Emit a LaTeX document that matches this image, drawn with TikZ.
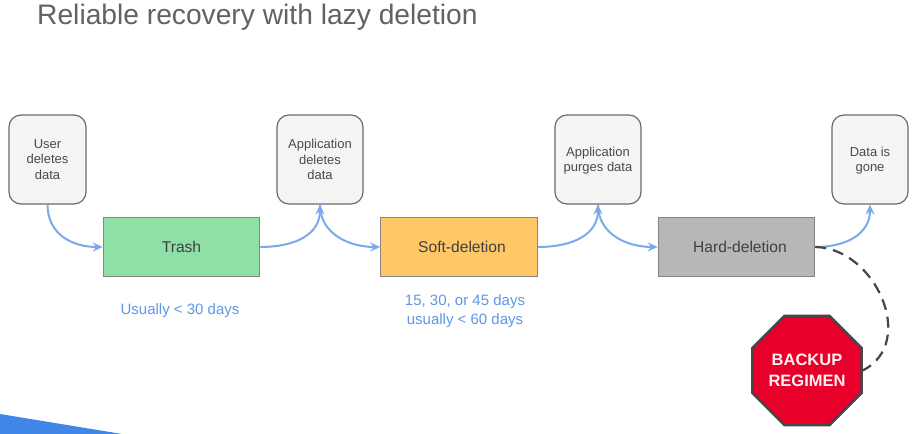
\documentclass[tikz,border=0pt]{standalone}
\usepackage{fontspec}
\setmainfont{Liberation Sans}
\usetikzlibrary{shapes.geometric,arrows.meta}
\definecolor{flowblue}{HTML}{7CA9EE}
\definecolor{noteblue}{HTML}{5F97E6}
\definecolor{wedgeblue}{HTML}{3F86E8}
\definecolor{textgrey}{HTML}{4A4A4A}
\definecolor{titlegrey}{HTML}{5F6368}
\definecolor{edgegrey}{HTML}{6B6B6B}
\definecolor{stageedge}{HTML}{858585}
\definecolor{signred}{HTML}{E8002B}
\definecolor{signedge}{HTML}{45454A}
\definecolor{trashgreen}{HTML}{8EE0A6}
\definecolor{softorange}{HTML}{FFC766}
\definecolor{hardgrey}{HTML}{B7B7B7}
\tikzset{
  eventbox/.style={draw=edgegrey, line width=1.2pt, fill=gray!8, rounded corners=12pt, minimum height=89pt, align=center, font=\fontsize{13}{15.5}\selectfont, text=textgrey, inner sep=0pt, text depth=0pt},
  stagebox/.style={draw=stageedge, line width=1pt, minimum width=156.5pt, minimum height=59.5pt, font=\fontsize{15.6}{18}\selectfont, text=black!75},
  flow/.style={-{Stealth[length=10pt,width=9pt,inset=3.5pt]}, line width=2pt, flowblue},
  spanlabel/.style={align=center, font=\fontsize{15}{19}\selectfont, text=noteblue}
}
\begin{document}
\begin{tikzpicture}[x=1pt,y=-1pt]
  \useasboundingbox (0,0) rectangle (914,434);
  \fill[white] (0,0) rectangle (914,434);

  % Corner wedge
  \fill[wedgeblue] (0,414) -- (122,434) -- (0,434) -- cycle;

  % Title
  \node[anchor=base west, text=titlegrey, font=\fontsize{28.2}{34}\selectfont, inner sep=0pt] (title) at (37,24) {Reliable recovery with lazy deletion};

  % Events
  \node[eventbox, minimum width=77pt] (user) at (47.5,159.5) {User\\deletes\\data};
  \node[eventbox, minimum width=86pt] (appdel) at (320,159.5) {Application\\deletes\\data};
  \node[eventbox, minimum width=86pt] (apppurge) at (598,159.5) {Application\\purges data};
  \node[eventbox, minimum width=76pt] (gone) at (870,159.5) {Data is\\gone};

  % Stages
  \node[stagebox, fill=trashgreen] (trash) at (181.5,247) {Trash};
  \node[stagebox, fill=softorange] (soft) at (459,247) {\hspace*{6pt}Soft-deletion};
  \node[stagebox, fill=hardgrey] (hard) at (736.5,247) {\hspace*{7pt}Hard-deletion};

  % Retention notes
  \node[spanlabel] (trashnote) at (180,311) {Usually < 30 days};
  \node[spanlabel] (softnote) at (465,311) {15, 30, or 45 days\\usually < 60 days};

  % Backup sign
  \node[regular polygon, regular polygon sides=8, draw=signedge, line width=2.5pt, fill=signred, minimum size=118pt, inner sep=0pt, align=center, text=white!95!red, font=\bfseries\fontsize{16.5}{21.5}\selectfont] (backup) at (807,370.5) {BACKUP\\REGIMEN};

  % Flow arrows
  \draw[flow] (user.south) .. controls +(0,30) and +(-30,0) .. (trash.west);
  \draw[flow] (trash.east) .. controls +(35,0) and +(0,30) .. (appdel.south);
  \draw[flow] (appdel.south) .. controls +(0,30) and +(-30,0) .. (soft.west);
  \draw[flow] (soft.east) .. controls +(35,0) and +(0,30) .. (apppurge.south);
  \draw[flow] (apppurge.south) .. controls +(0,30) and +(-30,0) .. (hard.west);
  \draw[flow] (hard.east) .. controls +(30,0) and +(0,30) .. (gone.south);

  % Link to backup
  \draw[line width=2.2pt, signedge, dash pattern=on 11pt off 7pt] (hard.east) .. controls +(60,1) and +(55,-28) .. (backup.east);
\end{tikzpicture}
\end{document}
